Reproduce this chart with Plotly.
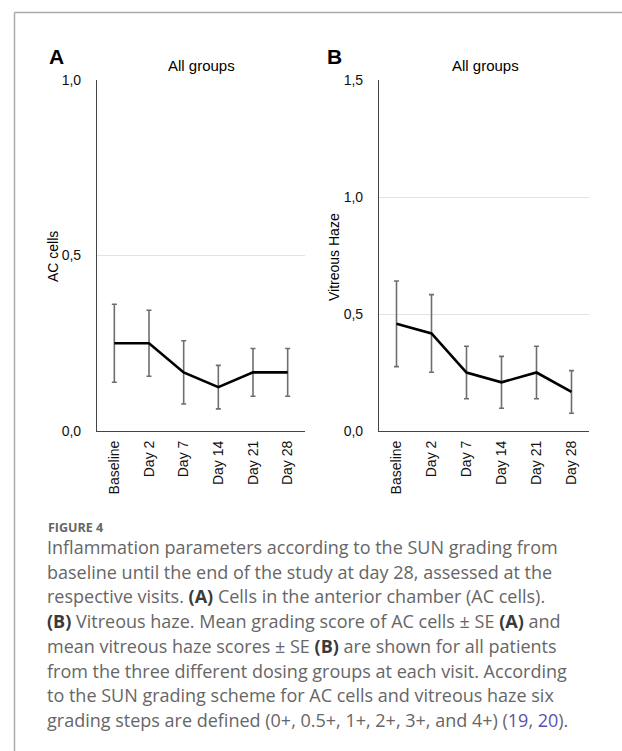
import plotly.graph_objects as go

# Visits and mean scores (± SE) for all patients
visits = ["Baseline", "Day 2", "Day 7", "Day 14", "Day 21", "Day 28"]
ac_mean = [0.25, 0.25, 0.167, 0.125, 0.167, 0.167]
ac_se = [0.111, 0.094, 0.09, 0.062, 0.068, 0.068]
vh_mean = [0.458, 0.417, 0.25, 0.208, 0.25, 0.167]
vh_se = [0.183, 0.166, 0.112, 0.111, 0.112, 0.091]

ac_ticks = [0.0, 0.5, 1.0]
ac_ticktext = ["0,0", "0,5", "1,0"]
vh_ticks = [0.0, 0.5, 1.0, 1.5]
vh_ticktext = ["0,0", "0,5", "1,0", "1,5"]

W, H = 622, 751
CHART_FONT = "Liberation Sans, Arial, sans-serif"
CAP_FONT = "Open Sans, Lato, sans-serif"


def px(x):
    return x / W


def py(y):
    return 1 - y / H


fig = go.Figure()

panels = [
    ("x", "y", ac_mean, ac_se),
    ("x2", "y2", vh_mean, vh_se),
]
for xa, ya, mean, se in panels:
    # error bars (drawn first so the mean line sits on top)
    fig.add_trace(go.Scatter(
        x=visits, y=mean, xaxis=xa, yaxis=ya, mode="markers",
        marker=dict(size=1, color="rgba(0,0,0,0)"),
        error_y=dict(type="data", array=se, visible=True, color="#6e6e6e",
                     thickness=1.6, width=2.5),
        showlegend=False, hoverinfo="skip",
    ))
    fig.add_trace(go.Scatter(
        x=visits, y=mean, xaxis=xa, yaxis=ya, mode="lines",
        line=dict(color="black", width=2.6),
        showlegend=False,
    ))

ydom = [py(431), py(80)]
xcommon = dict(
    type="category", range=[-0.5, 5.5], showgrid=False, zeroline=False,
    showline=True, linecolor="#444", linewidth=1.2, tickangle=-90,
    ticks="", ticklabelstandoff=3, automargin=False,
    tickfont=dict(family=CHART_FONT, size=14, color="#111"),
)
ycommon = dict(
    showgrid=True, gridcolor="#e3e3e3", gridwidth=1, zeroline=False,
    showline=True, linecolor="#444", linewidth=1.2, ticks="",
    ticklabelstandoff=12, automargin=False,
    tickfont=dict(family=CHART_FONT, size=14, color="#111"),
)

fig.update_layout(
    width=W, height=H, margin=dict(l=0, r=0, t=0, b=0),
    paper_bgcolor="white", plot_bgcolor="white",
    xaxis=dict(domain=[px(97), px(305)], anchor="y", **xcommon),
    yaxis=dict(domain=ydom, anchor="x", range=[0, 1.0],
               tickvals=ac_ticks, ticktext=ac_ticktext, **ycommon),
    xaxis2=dict(domain=[px(379), px(589)], anchor="y2", **xcommon),
    yaxis2=dict(domain=ydom, anchor="x2", range=[0, 1.5],
                tickvals=vh_ticks, ticktext=vh_ticktext, **ycommon),
)

ann = []
# panel letters and titles
for letter, lx in (("A", 56), ("B", 334)):
    ann.append(dict(text=f"<b>{letter}</b>", x=px(lx), y=py(56), xref="paper", yref="paper",
                    showarrow=False, xanchor="center", yanchor="middle",
                    font=dict(family=CHART_FONT, size=21, color="black")))
for tx in (201, 485):
    ann.append(dict(text="All groups", x=px(tx), y=py(66), xref="paper", yref="paper",
                    showarrow=False, xanchor="center", yanchor="middle",
                    font=dict(family=CHART_FONT, size=15, color="black")))
# y-axis titles
for title, tx in (("AC cells", 53), ("Vitreous Haze", 334)):
    ann.append(dict(text=title, x=px(tx), y=py(257), xref="paper", yref="paper",
                    showarrow=False, xanchor="center", yanchor="middle", textangle=-90,
                    font=dict(family=CHART_FONT, size=14, color="black")))

# caption
ann.append(dict(text="<b>FIGURE 4</b>", x=px(46), y=py(527), xref="paper", yref="paper",
                showarrow=False, xanchor="left", yanchor="middle",
                font=dict(family=CAP_FONT, size=12.5, color="#666")))
B = "<span style='color:#3a3a3a'><b>{}</b></span>"
REF = "<span style='color:#5a4fb5'>{}</span>"
caption_lines = [
    "Inflammation parameters according to the SUN grading from",
    "baseline until the end of the study at day 28, assessed at the",
    "respective visits. " + B.format("(A)") + " Cells in the anterior chamber (AC cells).",
    B.format("(B)") + " Vitreous haze. Mean grading score of AC cells \u00b1 SE " + B.format("(A)") + " and",
    "mean vitreous haze scores \u00b1 SE " + B.format("(B)") + " are shown for all patients",
    "from the three different dosing groups at each visit. According",
    "to the SUN grading scheme for AC cells and vitreous haze six",
    "grading steps are defined (0+, 0.5+, 1+, 2+, 3+, and 4+) (" + REF.format("19") + ", "
    + REF.format("20") + ").",
]
for i, line in enumerate(caption_lines):
    ann.append(dict(text=line, x=px(45), y=py(547 + 24.7 * i), xref="paper", yref="paper",
                    showarrow=False, xanchor="left", yanchor="middle",
                    font=dict(family=CAP_FONT, size=18, color="#666")))
fig.update_layout(annotations=ann)

# card outline (top and left edges)
fig.add_shape(type="line", xref="paper", yref="paper", x0=px(14.5), x1=1.0,
              y0=py(12.5), y1=py(12.5), line=dict(color="#aaaaaa", width=1.5))
fig.add_shape(type="line", xref="paper", yref="paper", x0=px(14.5), x1=px(14.5),
              y0=py(12.5), y1=0.0, line=dict(color="#aaaaaa", width=1.5))

fig.write_html("out.html")
